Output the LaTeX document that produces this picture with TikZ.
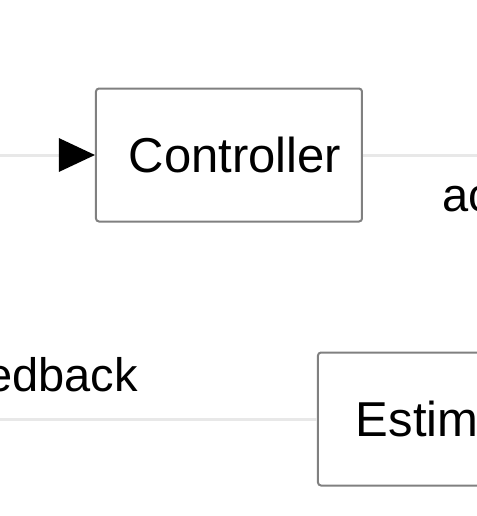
\documentclass[tikz,border=0pt]{standalone}
\usepackage{fontspec}
\setmainfont{Liberation Sans}
\usetikzlibrary{arrows.meta,positioning}

\tikzset{
  block/.style={draw=black!50, line width=1pt, rounded corners=1.5pt,
    minimum width=133pt, minimum height=66.5pt, fill=white,
    font=\fontsize{24.5}{29}\selectfont},
  wire/.style={draw=black!9, line width=1.5pt},
  lbl/.style={inner sep=0pt, font=\fontsize{23.5}{28}\selectfont},
}

\begin{document}
\begin{tikzpicture}[x=0.5pt,y=-0.5pt]
    % Frame
    \useasboundingbox (0,0) rectangle (477,516);
    \clip (0,0) rectangle (477,516);

    % Blocks
    \node[block] (ctrl) at (229,155) {\hspace{6pt}Controller};
    \node[block, anchor=west, text width=95pt, inner xsep=19pt, align=left] (est) at (317,419) {Estim};

    % Free ends of the wires
    \coordinate (in)  at (0,155);
    \coordinate (out) at (477,155);
    \coordinate (fb)  at (0,419);

    % Wires
    \draw[wire, -{Triangle[length=18pt,width=16.5pt,black]}] (in) -- (ctrl);
    \draw[wire] (ctrl) -- (out);
    \draw[wire] (est) -- (fb);

    % Labels
    \node[lbl, anchor=base west] (act) at (442,211) {ac};
    \node[lbl, anchor=base east] (fbl) at (138,391) {edback};
\end{tikzpicture}
\end{document}
